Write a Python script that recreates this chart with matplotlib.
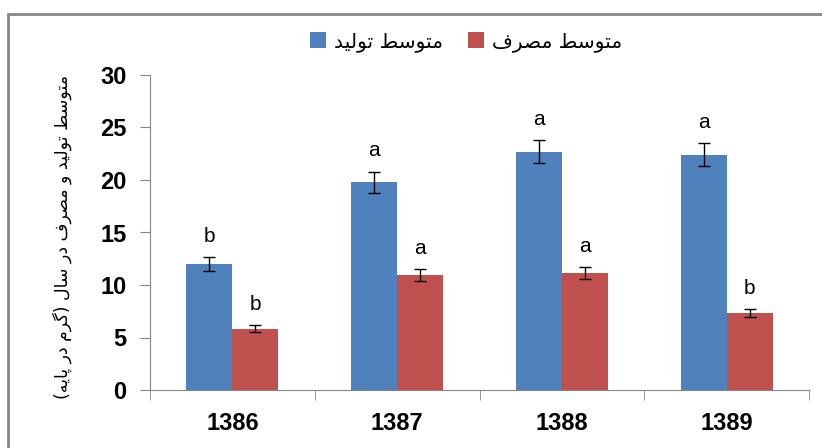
import matplotlib
matplotlib.use('Agg')
import matplotlib.pyplot as plt
from matplotlib.patches import Rectangle

# data
years = ['1386', '1387', '1388', '1389']
production = [12.0, 19.8, 22.7, 22.4]
production_err = [0.65, 1.0, 1.1, 1.1]
consumption = [5.85, 10.95, 11.15, 7.3]
consumption_err = [0.33, 0.57, 0.57, 0.38]
production_letters = ['b', 'a', 'a', 'a']
consumption_letters = ['b', 'a', 'a', 'b']

label_production = 'متوسط تولید'
label_consumption = 'متوسط مصرف'
ylabel_text = 'متوسط تولید و مصرف در سال (گرم در پایه)'

# matplotlib does no Arabic shaping, so pick presentation forms by hand
FORMS = {
    'ا': ('\uFE8D', '\uFE8E'),
    'د': ('\uFEA9', '\uFEAA'),
    'ر': ('\uFEAD', '\uFEAE'),
    'و': ('\uFEED', '\uFEEE'),
    'پ': ('\uFB56', '\uFB57', '\uFB58', '\uFB59'),
    'ت': ('\uFE95', '\uFE96', '\uFE97', '\uFE98'),
    'س': ('\uFEB1', '\uFEB2', '\uFEB3', '\uFEB4'),
    'ص': ('\uFEB9', '\uFEBA', '\uFEBB', '\uFEBC'),
    'ط': ('\uFEC1', '\uFEC2', '\uFEC3', '\uFEC4'),
    'ف': ('\uFED1', '\uFED2', '\uFED3', '\uFED4'),
    'گ': ('\uFB92', '\uFB93', '\uFB94', '\uFB95'),
    'ل': ('\uFEDD', '\uFEDE', '\uFEDF', '\uFEE0'),
    'م': ('\uFEE1', '\uFEE2', '\uFEE3', '\uFEE4'),
    'ه': ('\uFEE9', '\uFEEA', '\uFEEB', '\uFEEC'),
    'ی': ('\uFBFC', '\uFBFD', '\uFBFE', '\uFBFF'),
}


def shape(text):
    out = []
    i = 0
    n = len(text)
    while i < n:
        c = text[i]
        if c not in FORMS:
            out.append(c)
            i += 1
            continue
        prev = text[i - 1] if i > 0 else ''
        joins_prev = prev in FORMS and len(FORMS[prev]) == 4
        # lam-alef ligature
        if c == 'ل' and i + 1 < n and text[i + 1] == 'ا':
            out.append('\uFEFC' if joins_prev else '\uFEFB')
            i += 2
            continue
        nxt = text[i + 1] if i + 1 < n else ''
        joins_next = len(FORMS[c]) == 4 and nxt in FORMS
        f = FORMS[c]
        if joins_prev and joins_next:
            out.append(f[3])
        elif joins_next:
            out.append(f[2])
        elif joins_prev:
            out.append(f[1])
        else:
            out.append(f[0])
        i += 1
    vis = ''.join(reversed(out))
    return vis.translate(str.maketrans('()', ')('))


blue = '#4F81BD'
red = '#C0504D'
grey = '#868686'

fig = plt.figure(figsize=(8.22, 4.48), dpi=100)
ax = fig.add_axes([150 / 822, 58 / 448, 659 / 822, 315 / 448])

x = list(range(len(years)))
w = 0.279
xb = [i - w / 2 for i in x]
xr = [i + w / 2 for i in x]

ax.bar(xb, production, width=w, color=blue, label=shape(label_production),
       yerr=production_err, error_kw=dict(ecolor='black', elinewidth=1, capsize=4, capthick=1))
ax.bar(xr, consumption, width=w, color=red, label=shape(label_consumption),
       yerr=consumption_err, error_kw=dict(ecolor='black', elinewidth=1, capsize=4, capthick=1))

for xi, v, e, t in zip(xb, production, production_err, production_letters):
    ax.annotate(t, (xi, v + e), xytext=(0, 11), textcoords='offset points',
                ha='center', va='baseline', fontsize=15, family='Liberation Sans')
for xi, v, e, t in zip(xr, consumption, consumption_err, consumption_letters):
    ax.annotate(t, (xi, v + e), xytext=(0, 11), textcoords='offset points',
                ha='center', va='baseline', fontsize=15, family='Liberation Sans')

ax.set_xlim(-0.5, len(years) - 0.5)
ax.set_ylim(0, 30)
ax.set_yticks(range(0, 31, 5))
ax.set_xticks(x)
ax.set_xticklabels(years)
ax.set_xticks([i - 0.5 for i in range(len(years) + 1)], minor=True)
ax.tick_params(axis='x', which='major', length=0, pad=16)
ax.tick_params(axis='x', which='minor', length=7, color=grey, direction='out')
ax.tick_params(axis='y', length=7, color=grey, direction='out', pad=10)
for lab in ax.get_xticklabels() + ax.get_yticklabels():
    lab.set_fontsize(17)
    lab.set_fontweight('bold')
    lab.set_family('Liberation Sans')

for s in ['top', 'right']:
    ax.spines[s].set_visible(False)
for s in ['left', 'bottom']:
    ax.spines[s].set_color(grey)

fig.text(62 / 822, 1 - 237 / 448, shape(ylabel_text), rotation=90,
         ha='center', va='center', fontsize=12.5, family='DejaVu Sans')

fig.legend(loc='center', bbox_to_anchor=(466 / 822, 1 - 42 / 448), ncol=2,
           frameon=False, handlelength=0.8, handleheight=0.8,
           handletextpad=0.4, columnspacing=1.2, prop={'family': 'DejaVu Sans', 'size': 14.5})

# chart border (only top and left edges visible in the crop)
fig.patches.append(Rectangle((8 / 822, -0.2), 1.2, 1.2 - 14 / 448,
                             transform=fig.transFigure, fill=False,
                             edgecolor=grey, linewidth=2))

fig.savefig('out.png', dpi=100)
